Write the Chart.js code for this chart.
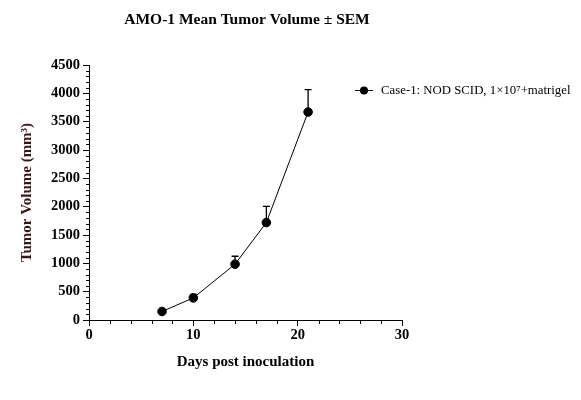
<!DOCTYPE html>
<html>
<head>
<meta charset="utf-8">
<script src="https://cdn.jsdelivr.net/npm/chart.js@4"></script>
<style>
  html, body { margin: 0; padding: 0; background: #fff; }
  #wrap { width: 581px; height: 400px; }
</style>
</head>
<body>
<div id="wrap"><canvas id="myChart"></canvas></div>
<script>
/************** Tumor volume chart ******/
var days = [7, 10, 14, 17, 21];
var volumes = [150, 390, 985, 1720, 3670];
var sem = [15, 60, 140, 285, 395];
var seriesName = "Case-1: NOD SCID, 1\u00d710\u2077+matrigel";
var chartTitle = "AMO-1 Mean Tumor Volume \u00b1 SEM";

var serif = "'Liberation Serif', 'Times New Roman', serif";

// upper error bars, drawn under the points
var errorBars = {
  id: "errorBars",
  beforeDatasetsDraw: function(chart) {
    var ctx = chart.ctx, x = chart.scales.x, y = chart.scales.y;
    ctx.save();
    ctx.strokeStyle = "#000";
    ctx.lineWidth = 1.3;
    for (var i = 0; i < days.length; i++) {
      var px = x.getPixelForValue(days[i]);
      var p0 = y.getPixelForValue(volumes[i]);
      var p1 = y.getPixelForValue(volumes[i] + sem[i]);
      ctx.beginPath();
      ctx.moveTo(px, p0);
      ctx.lineTo(px, p1);
      ctx.moveTo(px - 3.5, p1);
      ctx.lineTo(px + 3.5, p1);
      ctx.stroke();
    }
    ctx.restore();
  }
};

// minor ticks, title and legend
var extras = {
  id: "extras",
  afterDraw: function(chart) {
    var ctx = chart.ctx, x = chart.scales.x, y = chart.scales.y;
    var a = chart.chartArea;
    ctx.save();
    ctx.strokeStyle = "#000";
    ctx.lineWidth = 1;
    ctx.beginPath();
    for (var v = 100; v < 4500; v += 100) {
      if (v % 500 === 0) continue;
      var py = Math.round(y.getPixelForValue(v)) + 0.5;
      ctx.moveTo(a.left - 3, py);
      ctx.lineTo(a.left, py);
    }
    for (var d = 2; d < 30; d += 2) {
      if (d % 10 === 0) continue;
      var px = Math.round(x.getPixelForValue(d)) + 0.5;
      ctx.moveTo(px, a.bottom);
      ctx.lineTo(px, a.bottom + 4);
    }
    ctx.stroke();

    ctx.fillStyle = "#000";
    ctx.font = "bold 15.5px " + serif;
    ctx.textAlign = "center";
    ctx.textBaseline = "middle";
    ctx.fillText(chartTitle, 247, 20);

    // legend
    ctx.beginPath();
    ctx.moveTo(355, 90.5);
    ctx.lineTo(373, 90.5);
    ctx.stroke();
    ctx.beginPath();
    ctx.arc(364, 90.5, 4, 0, Math.PI * 2);
    ctx.fill();
    ctx.font = "12.8px " + serif;
    ctx.textAlign = "left";
    ctx.fillText(seriesName, 381, 91);
    ctx.restore();
  }
};

new Chart("myChart", {
  type: "line",
  data: {
    labels: days,
    datasets: [{
      label: seriesName,
      data: days.map(function(d, i) { return {x: d, y: volumes[i]}; }),
      borderColor: "#000",
      backgroundColor: "#000",
      borderWidth: 1,
      pointRadius: 4.3,
      pointHoverRadius: 4.3,
      tension: 0
    }]
  },
  options: {
    responsive: true,
    maintainAspectRatio: false,
    animation: false,
    layout: {padding: {left: 0, right: 179, top: 65, bottom: 0}},
    plugins: {
      legend: {display: false},
      title: {display: false},
      tooltip: {enabled: false}
    },
    scales: {
      x: {
        type: "linear",
        min: 0,
        max: 30,
        afterFit: function(s) { s.height = 80; },
        border: {color: "#000", width: 1},
        grid: {drawOnChartArea: false, drawTicks: true, tickLength: 6, color: "#000"},
        ticks: {
          stepSize: 10, color: "#000", padding: 1,
          font: {family: serif, size: 14.5, weight: "bold"},
          callback: function(v) { return String(v); }
        },
        title: {
          display: true,
          text: "Days post inoculation",
          color: "#000",
          padding: {top: 0, bottom: 29},
          font: {family: serif, size: 15, weight: "bold"}
        }
      },
      y: {
        min: 0,
        max: 4500,
        afterFit: function(s) { s.width = 89; },
        border: {color: "#000", width: 1},
        grid: {drawOnChartArea: false, drawTicks: true, tickLength: 6, color: "#000"},
        ticks: {
          stepSize: 500, color: "#000", padding: 3,
          font: {family: serif, size: 14.5, weight: "bold"},
          callback: function(v) { return String(v); }
        },
        title: {
          display: true,
          text: "Tumor Volume (mm\u00b3)",
          color: "#3a1515",
          padding: {top: 18, bottom: 0},
          font: {family: serif, size: 15, weight: "bold"}
        }
      }
    }
  },
  plugins: [errorBars, extras]
});
</script>
</body>
</html>
